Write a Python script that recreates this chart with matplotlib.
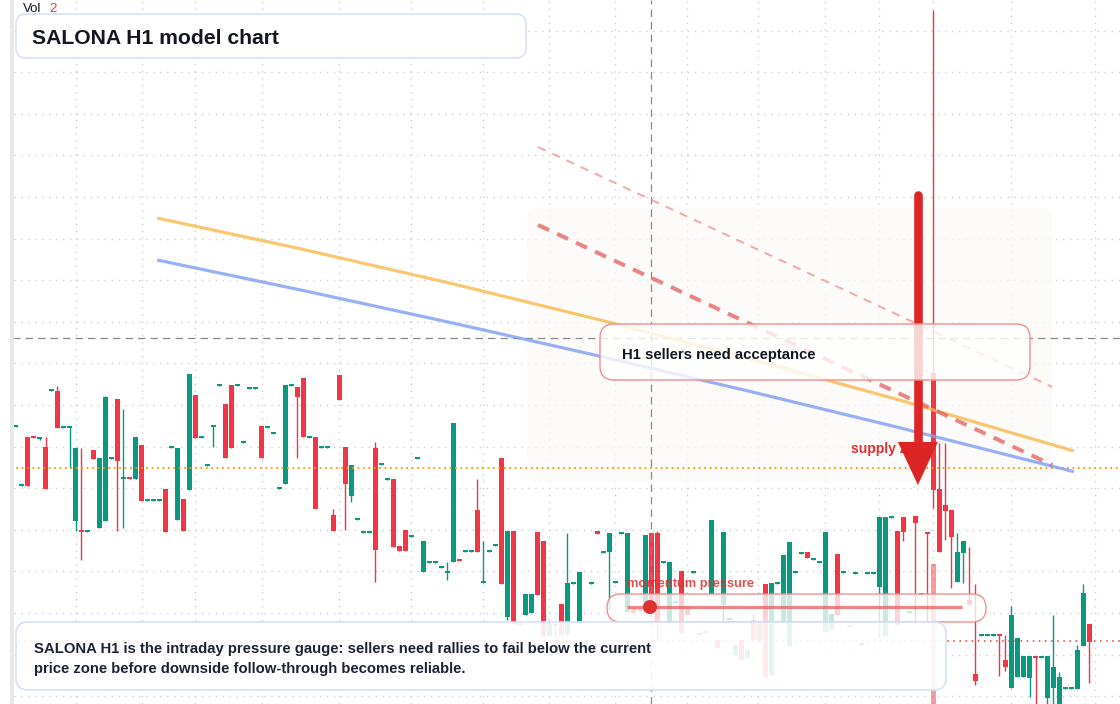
import matplotlib
matplotlib.use("Agg")
import matplotlib.pyplot as plt
import matplotlib.transforms as mtransforms
from matplotlib.patches import FancyBboxPatch, Polygon, Circle
import numpy as np

plt.rcParams['font.family'] = ['Liberation Sans', 'DejaVu Sans']

W, H = 1120, 704
GREEN = "#089981"
RED = "#f23645"
INK = "#131722"

# hourly candles (price units), one per bar
opens = [277, 218, 267, 268, 265, 257, 313, 313, 276, 276, 183, 174, 172, 254, 176, 183, 245, 305, 225, 227,
         225, 259, 203, 203, 203, 215, 256, 184, 205, 214, 309, 266, 238, 277, 318, 300, 319, 318, 261, 315,
         315, 278, 276, 270, 215, 220, 318, 317, 326, 266, 267, 256, 256, 189, 329, 257, 208, 184, 171, 171,
         256, 239, 224, 225, 158, 174, 167, 245, 132, 141, 141, 136, 131, 142, 145, 152, 152, 194, 121, 152,
         158, 246, 87, 173, 79, 89, 91, 172, 163, 68, 78, 100, 69, 120, 82, 54, 120, 173, 151, 152,
         121, 170, 92, 96, 93, 92, 171, 171, 141, 81, 101, 133, 97, 131, 69, 71, 110, 64, 99, 84,
         49, 64, 46, 84, 81, 120, 29, 120, 82, 58, 131, 150, 152, 144, 141, 72, 74, 150, 131, 77,
         130, 59, 130, 130, 117, 68, 186, 173, 187, 91, 188, 109, 172, 331, 215, 199, 194, 122, 151, 104,
         30, 68, 68, 68, 70, 44, 16, 27, 27, 26, 48, 46, 6, 16, -8, 15, 15, 15, 58, 80]
highs = [279, 220, 267, 268, 267, 267, 315, 318, 278, 278, 256, 256, 174, 254, 246, 308, 247, 305, 295, 227,
         267, 259, 205, 205, 205, 215, 258, 256, 205, 330, 309, 268, 240, 279, 320, 300, 319, 320, 263, 317,
         317, 278, 278, 272, 217, 319, 320, 317, 326, 268, 267, 258, 258, 195, 329, 257, 239, 186, 173, 173,
         262, 241, 226, 225, 158, 174, 169, 247, 163, 143, 143, 138, 142, 281, 145, 154, 154, 225, 163, 154,
         160, 246, 173, 173, 81, 110, 110, 172, 163, 80, 80, 100, 171, 122, 132, 64, 122, 173, 153, 171,
         123, 172, 171, 96, 95, 169, 171, 173, 143, 142, 103, 133, 97, 133, 71, 73, 184, 64, 172, 86,
         59, 64, 54, 90, 81, 120, 121, 122, 149, 162, 133, 152, 152, 146, 143, 172, 90, 150, 133, 79,
         132, 61, 132, 132, 187, 187, 188, 173, 187, 93, 188, 111, 172, 694, 261, 261, 194, 171, 163, 157,
         120, 70, 70, 70, 70, 69, 98, 66, 48, 48, 48, 48, 48, 89, 32, 17, 17, 59, 120, 80]
lows = [277, 218, 218, 266, 264, 215, 313, 276, 276, 236, 173, 144, 172, 245, 176, 183, 245, 173, 176, 225,
        225, 203, 203, 203, 203, 172, 256, 184, 173, 214, 266, 266, 238, 257, 318, 246, 256, 318, 261, 315,
        315, 246, 276, 270, 215, 220, 318, 246, 267, 266, 195, 256, 256, 173, 304, 174, 202, 184, 171, 171,
        122, 239, 224, 157, 153, 153, 167, 245, 132, 141, 141, 136, 124, 142, 143, 152, 152, 152, 121, 152,
        158, 120, 84, 80, 79, 89, 91, 109, 68, 68, 68, 69, 69, 120, 82, 54, 120, 170, 151, 94,
        121, 170, 92, 91, 93, 92, 92, 64, 141, 81, 101, 71, 89, 131, 69, 71, 110, 56, 82, 84,
        49, 44, 46, 64, 63, 27, 29, 120, 82, 58, 131, 150, 146, 144, 141, 72, 74, 89, 131, 77,
        130, 59, 130, 130, 66, 68, 186, 79, 163, 91, 82, 109, 82, 196, 152, 164, 116, 122, 121, 99,
        19, 68, 68, 68, 28, 33, 16, 27, 27, 7, 0, 46, 0, 0, -8, 15, 15, 15, 58, 21]
closes = [279, 220, 218, 266, 267, 215, 315, 276, 278, 278, 256, 172, 174, 245, 246, 307, 247, 243, 227, 225,
          267, 203, 205, 205, 205, 172, 258, 256, 173, 330, 266, 268, 240, 279, 320, 246, 256, 320, 263, 317,
          317, 246, 278, 272, 217, 319, 320, 307, 267, 268, 195, 258, 258, 173, 304, 220, 239, 186, 173, 173,
          154, 241, 226, 157, 153, 153, 169, 247, 163, 143, 143, 138, 133, 281, 143, 154, 154, 152, 123, 154,
          160, 120, 173, 80, 81, 110, 110, 109, 68, 80, 80, 69, 121, 122, 132, 64, 122, 170, 153, 171,
          123, 172, 171, 91, 95, 169, 92, 81, 143, 142, 103, 71, 89, 133, 71, 73, 184, 56, 172, 86,
          59, 44, 54, 64, 63, 27, 121, 122, 149, 162, 133, 152, 146, 146, 143, 172, 90, 89, 133, 79,
          132, 61, 132, 132, 187, 187, 188, 79, 172, 93, 181, 111, 170, 214, 152, 193, 167, 152, 163, 99,
          23, 70, 70, 70, 68, 37, 89, 66, 48, 48, 46, 48, 48, 37, 27, 17, 17, 54, 111, 62]

# volume pane: only the spike bar shows above the pane floor
vol_bar = [153]
vol_size = [140]

# overlays (bar index, price)
ema_fast_x = [23.6, 47.4, 72.4, 97.4, 122.4, 147.4, 176.4]
ema_fast_y = [486, 455.3, 420.9, 384.1, 345.1, 303.8, 253]
ema_slow_x = [23.6, 47.4, 72.4, 97.4, 122.4, 147.4, 176.4]
ema_slow_y = [444, 414.2, 381.6, 347.8, 312.6, 276.2, 232.3]
chan_x = [87.1, 172.8]
chan_upper = [557, 317]
chan_lower = [479, 239]
last_price = 236
ref_price = 63
cross_bar, cross_price = 106, 366
arrow_bar, arrow_from, arrow_to = 150.4, 509, 219

grid_bars = [10, 21, 30, 41, 54, 66, 78, 89, 100, 112, 123.7, 135, 144, 153, 166, 180]

fig = plt.figure(figsize=(W / 100, H / 100), dpi=100)
ax = fig.add_axes([0, 0, 1, 1])
ax.set_xlim(-15.5 / 6, (W - 15.5) / 6)
ax.set_ylim(0, H)
for s in ax.spines.values():
    s.set_visible(False)
ax.set_xticks(grid_bars)
ax.set_yticks(np.arange(673.5, 0, -41.6))
ax.tick_params(length=0, labelleft=False, labelbottom=False)
ax.set_axisbelow(True)
ax.grid(True, color="#cfcfcf", linestyle=(0, (1, 4)), linewidth=1)

# pixel helper for the annotation layer (y downwards)
px = mtransforms.Affine2D().scale(1 / W, -1 / H).translate(0, 1) + ax.transAxes


def rbox(x, y, w, h, r, fc, ec, z, lw=1.0):
    p = FancyBboxPatch((x, y), w, h, boxstyle="round,pad=0,rounding_size=%d" % r,
                       transform=px, facecolor=fc, edgecolor=ec, linewidth=lw, zorder=z)
    ax.add_patch(p)


def label(x, y, s, size, color=INK, weight="bold", alpha=1.0, z=7):
    ax.text(x, y, s, transform=px, fontsize=size, fontweight=weight, color=color,
            alpha=alpha, va="baseline", ha="left", zorder=z)


# left margin strip (covers the start of the horizontal lines)
ax.add_patch(plt.Rectangle((0, 0), 10, H, transform=px, color="white", zorder=3.7, lw=0))
ax.add_patch(plt.Rectangle((10, 0), 4, H, transform=px, color="#e8e8e8", zorder=3.7, lw=0))

# faint supply zone
rbox(527, 207, 525, 275, 14, (0.992, 0.98, 0.97, 0.75), "none", 1)

# candles
o = np.array(opens, float)
hi = np.array(highs, float)
lo = np.array(lows, float)
c = np.array(closes, float)
idx = np.arange(len(o))
cols = np.where(c >= o, GREEN, RED)
ax.vlines(idx, lo, hi, colors=cols, linewidth=1, zorder=3)
ax.bar(idx, np.maximum(np.abs(c - o), 2), bottom=np.minimum(o, c), width=5 / 6,
       color=cols, linewidth=0, zorder=3)

ax.bar(vol_bar, vol_size, bottom=0, width=5 / 6, color=RED, alpha=0.5, linewidth=0, zorder=2.5)

# price lines and crosshair
ax.axhline(last_price, color="#ff9800", linestyle=(0, (1, 2)), linewidth=1.3, zorder=3.2)
ax.axhline(ref_price, color="#e53935", linestyle=(0, (1, 3)), linewidth=1.1, zorder=2)
ax.axhline(cross_price, color="#8a8a8a", linestyle=(0, (6, 4)), linewidth=0.9, zorder=3.5)
ax.axvline(cross_bar, color="#8a8a8a", linestyle=(0, (6, 4)), linewidth=0.9, zorder=3.5)

# moving averages and channel
ax.plot(ema_fast_x, ema_fast_y, color="#f9b94e", alpha=0.8, linewidth=2.3, zorder=4,
        solid_capstyle="butt")
ax.plot(ema_slow_x, ema_slow_y, color="#7f9cf5", alpha=0.8, linewidth=2.3, zorder=4,
        solid_capstyle="butt")
ax.plot(chan_x, chan_upper, color="#f08a8a", alpha=0.7, linewidth=1.5,
        linestyle=(0, (4, 3.5)), zorder=4)
ax.plot(chan_x, chan_lower, color="#e35d5d", alpha=0.75, linewidth=2.9,
        linestyle=(0, (3, 2.2)), zorder=4)

label(851, 452.5, "supply zone", 10, color="#e03131", z=4.5)

# arrow
head_len, head_half = 43, 20 / 6
ax.plot([arrow_bar, arrow_bar], [arrow_from, arrow_to + head_len - 2], color="#dc2626",
        linewidth=6.2, solid_capstyle="round", zorder=5)
ax.add_patch(Polygon([[arrow_bar - head_half, arrow_to + head_len],
                      [arrow_bar + head_half, arrow_to + head_len],
                      [arrow_bar, arrow_to]], closed=True, color="#dc2626", lw=0, zorder=5))

# title card
rbox(16, 14, 510, 44, 10, (1, 1, 1, 0.97), "#d5e2f5", 6, lw=1.2)
label(32, 43.5, "SALONA H1 model chart", 15.2)
label(23, 12.5, "Vol", 9.5, weight="normal")
label(49, 12.5, "2", 9.5, color=RED, weight="normal")

# H1 callout
rbox(600, 324, 430, 56, 14, (1, 1, 1, 0.8), "#ef8f8f", 6)
label(622, 358.5, "H1 sellers need acceptance", 10.7)

# momentum gauge
label(627, 586.5, "momentum pressure", 9.3, color="#e03131", alpha=0.85)
rbox(607, 594, 379, 28, 14, (1, 1, 1, 0.78), "#ef9090", 6)
ax.plot([627, 962], [607, 607], transform=px, color="#e35d5d", alpha=0.75, linewidth=2.3,
        zorder=7, solid_capstyle="butt")
ax.add_patch(Circle((650, 607), 7, transform=px, color="#e03131", zorder=7.5, lw=0))

# bottom note
rbox(16, 622, 930, 68, 12, (1, 1, 1, 0.9), "#d5e2f5", 6, lw=1.2)
label(34, 653.3, "SALONA H1 is the intraday pressure gauge: sellers need rallies to fail below the current",
      10.75, color="#1e2235")
label(34, 672.7, "price zone before downside follow-through becomes reliable.", 10.75, color="#1e2235")

fig.savefig("out.png", dpi=100)
